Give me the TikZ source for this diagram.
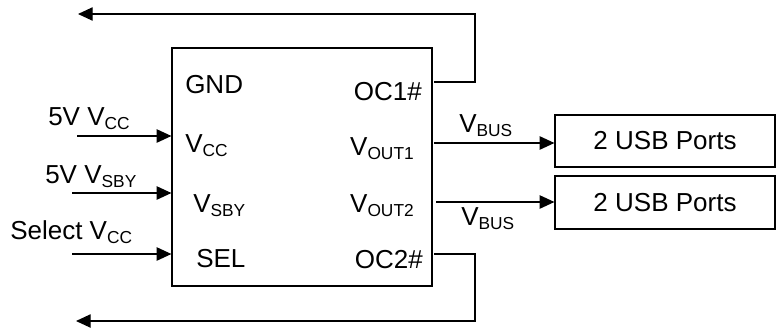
\documentclass[tikz,border=0pt]{standalone}
\usepackage{fontspec}
\setmainfont{Liberation Sans}
\usepackage{tikz}
\usetikzlibrary{arrows.meta,positioning}

\newcommand{\lo}[1]{\raisebox{-0.35ex}{\fontsize{13}{13}\selectfont #1}}

\begin{document}
\begin{tikzpicture}[
      x = 0.75pt, y = -0.75pt,
      every node/.style = {font = \fontsize{19.5}{23}\selectfont},
      box/.style = {draw, rectangle, line width = 0.9pt, inner sep = 0pt},
      pin/.style = {inner sep = 0pt},
      wire/.style = {line width = 0.9pt},
      arr/.style = {wire, -{Triangle[length = 11pt, width = 10pt]}}
      ]
      \useasboundingbox (0,0) rectangle (777,329);
      % chip and port boxes
      \node (chip) [box, minimum width = 195pt, minimum height = 178.5pt] at (302,167) {};
      \node (usb1) [box, minimum width = 165pt, minimum height = 39pt] at (665,141) {2 USB Ports};
      \node (usb2) [box, minimum width = 165pt, minimum height = 39.75pt] at (665,202.5) {2 USB Ports};
      % pins
      \node (gnd) [pin, anchor = base west] at (185,93) {GND};
      \node (vcc) [pin, anchor = base west] at (185,152) {V\lo{CC}};
      \node (vsby) [pin, anchor = base west] at (193,212) {V\lo{SBY}};
      \node (sel) [pin, anchor = base west] at (196,267) {SEL};
      \node (oc1) [pin, anchor = base east] at (422,100) {OC1\#};
      \node (vout1) [pin, anchor = base east] at (414,155) {V\lo{OUT1}};
      \node (vout2) [pin, anchor = base east] at (414,212) {V\lo{OUT2}};
      \node (oc2) [pin, anchor = base east] at (423,268) {OC2\#};
      % input labels
      \node (lvcc) [pin, anchor = base west] at (48,125) {5V V\lo{CC}};
      \node (lsby) [pin, anchor = base west] at (45,183) {5V V\lo{SBY}};
      \node (lsel) [pin, anchor = base west] at (10,239) {Select V\lo{CC}};
      \node (bus1) [pin, anchor = base west] at (459,132) {V\lo{BUS}};
      \node (bus2) [pin, anchor = base west] at (461,225) {V\lo{BUS}};
      % wire ends
      \coordinate (invcc) at (77,136);
      \coordinate (insby) at (72,193);
      \coordinate (insel) at (72,254);
      \coordinate (out1) at (434,143);
      \coordinate (out2) at (436,202);
      \coordinate (fb1) at (434,82);
      \coordinate (fb1turn) at (475,14);
      \coordinate (fb1end) at (78,14);
      \coordinate (fb2) at (434,254);
      \coordinate (fb2turn) at (475,321);
      \coordinate (fb2end) at (76,321);
      % inputs
      \draw[arr] (invcc) -- (invcc -| chip.west);
      \draw[arr] (insby) -- (insby -| chip.west);
      \draw[arr] (insel) -- (insel -| chip.west);
      % outputs
      \draw[arr] (out1) -- (out1 -| usb1.west);
      \draw[arr] (out2) -- (out2 -| usb2.west);
      % fault feedback
      \draw[arr] (fb1) -- (fb1 -| fb1turn) -- (fb1turn) -- (fb1end);
      \draw[arr] (fb2) -- (fb2 -| fb2turn) -- (fb2turn) -- (fb2end);
    \end{tikzpicture}
\end{document}
